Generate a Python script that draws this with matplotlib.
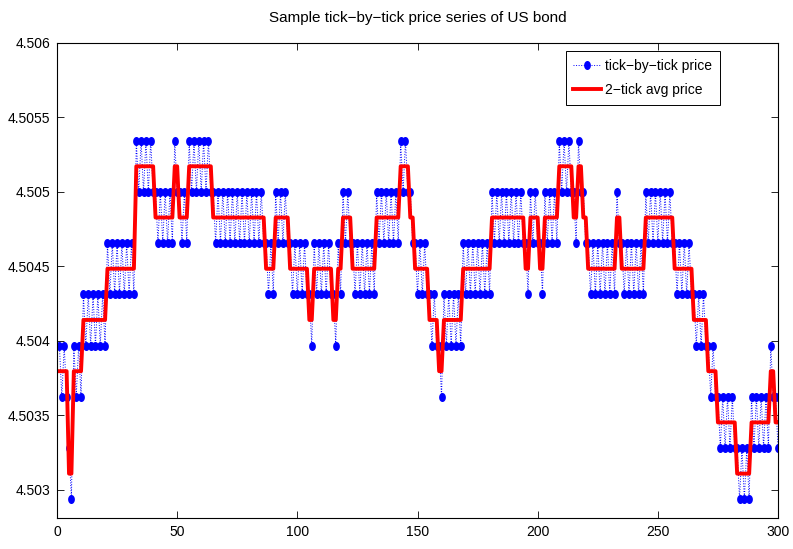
import numpy as np
import matplotlib
matplotlib.use('Agg')
import matplotlib.pyplot as plt
from matplotlib.path import Path

# ---- data -------------------------------------------------------------
base_price = 4.505          # price of level 0
level_step = 0.000344       # price distance between quote levels

# tick-by-tick price, as quote level relative to base_price (one entry per tick)
tick_levels = [
    -3, -4,  -3, -4,  -5, -6,
    -3, -4,  -3, -4,
    -2, -3,  -2, -3,  -2, -3,  -2, -3,  -2, -3,
    -1, -2,  -1, -2,  -1, -2,  -1, -2,  -1, -2,  -1, -2,
    1, 0,  1, 0,  1, 0,  1, 0,
    0, -1,  0, -1,  0, -1,  0, -1,
    1, 0,
    0, -1,  0, -1,
    1, 0,  1, 0,  1, 0,  1, 0,  1, 0,
    0, -1,  0, -1,  0, -1,  0, -1,  0, -1,  0, -1,  0, -1,  0, -1,  0, -1,  0, -1,  0, -1,
    -1, -2,  -1, -2,
    0, -1,  0, -1,  0, -1,
    -1, -2,  -1, -2,  -1, -2,  -1, -2,
    -2, -3,
    -1, -2,  -1, -2,  -1, -2,  -1, -2,
    -2, -3,
    -1, -2,
    0, -1,  0, -1,
    -1, -2,  -1, -2,  -1, -2,  -1, -2,  -1, -2,
    0, -1,  0, -1,  0, -1,  0, -1,  0, -1,
    1, 0,  1, 0,
    0, -1,
    -1, -2,  -1, -2,  -1, -2,
    -2, -3,  -2, -3,
    -3, -4,
    -2, -3,  -2, -3,  -2, -3,  -2, -3,
    -1, -2,  -1, -2,  -1, -2,  -1, -2,  -1, -2,  -1, -2,
    0, -1,  0, -1,  0, -1,  0, -1,  0, -1,  0, -1,  0, -1,
    -1, -2,
    0, -1,  0, -1,
    -1, -2,
    0, -1,  0, -1,  0, -1,
    1, 0,  1, 0,  1, 0,
    0, -1,
    1, 0,
    0, -1,
    -1, -2,  -1, -2,  -1, -2,  -1, -2,  -1, -2,  -1, -2,
    0, -1,
    -1, -2,  -1, -2,  -1, -2,  -1, -2,  -1, -2,
    0, -1,  0, -1,  0, -1,  0, -1,  0, -1,  0, -1,
    -1, -2,  -1, -2,  -1, -2,  -1, -2,
    -2, -3,  -2, -3,  -2, -3,
    -3, -4,  -3, -4,
    -4, -5,  -4, -5,  -4, -5,  -4, -5,
    -5, -6,  -5, -6,  -5, -6,
    -4, -5,  -4, -5,  -4, -5,  -4, -5,
    -3, -4,
    -4, -5,
]

x_ticks = [0, 50, 100, 150, 200, 250, 300]
y_ticks = [4.503, 4.5035, 4.504, 4.5045, 4.505, 4.5055, 4.506]
y_tick_labels = ['4.503', '4.5035', '4.504', '4.5045', '4.505', '4.5055', '4.506']
title_text = 'Sample tick\u2212by\u2212tick price series of US bond'
legend_labels = ['tick\u2212by\u2212tick price', '2\u2212tick avg price']

# ---- plot -------------------------------------------------------------
plt.rcParams['font.family'] = ['Liberation Sans', 'DejaVu Sans']

W, H = 793, 549
fig = plt.figure(figsize=(W / 100, H / 100), dpi=100)
ax_l, ax_r, ax_t, ax_b = 57, 778, 43, 518
ax = fig.add_axes([ax_l / W, 1 - ax_b / H, (ax_r - ax_l) / W, (ax_b - ax_t) / H])

codes = np.array(tick_levels, dtype=float)
price = base_price + codes * level_step
idx = np.arange(1, len(price) + 1)
avg = np.repeat(price.reshape(-1, 2).mean(axis=1), 2)

theta = np.linspace(0, 2 * np.pi, 41)
ellipse = Path(np.column_stack([0.75 * np.cos(theta), np.sin(theta)]), closed=True)

ax.plot(idx, price, color=(0, 0, 1), ls=':', lw=0.7, marker=ellipse, ms=6.5,
        mfc=(0, 0, 1), mec='none', label=legend_labels[0])
ax.plot(idx, avg, color=(1, 0, 0), lw=2.8, label=legend_labels[1])

ax.set_xlim(0, 300)
ax.set_ylim(4.50281, 4.506)
ax.set_xticks(x_ticks)
ax.set_xticklabels([str(t) for t in x_ticks])
ax.set_yticks(y_ticks)
ax.set_yticklabels(y_tick_labels)
ax.tick_params(direction='in', top=True, right=True, length=5, width=0.6,
               labelsize=10, pad=5, colors='black')
for s in ax.spines.values():
    s.set_linewidth(0.8)
    s.set_color('black')

fig.text(((ax_l + ax_r) / 2) / W, 1 - 18 / H, title_text, ha='center', va='center',
         fontsize=11)

leg = ax.legend(loc='upper right',
                bbox_to_anchor=((720 - ax_l) / (ax_r - ax_l), 1 - (51 - ax_t) / (ax_b - ax_t)),
                borderaxespad=0, fontsize=10, handlelength=2.0, handletextpad=0.3,
                borderpad=0.55, labelspacing=0.75, fancybox=False, framealpha=1,
                edgecolor='black')
leg.get_frame().set_linewidth(0.7)
leg.legend_handles[0].set_markevery([1])

fig.savefig('out.png', dpi=100)
